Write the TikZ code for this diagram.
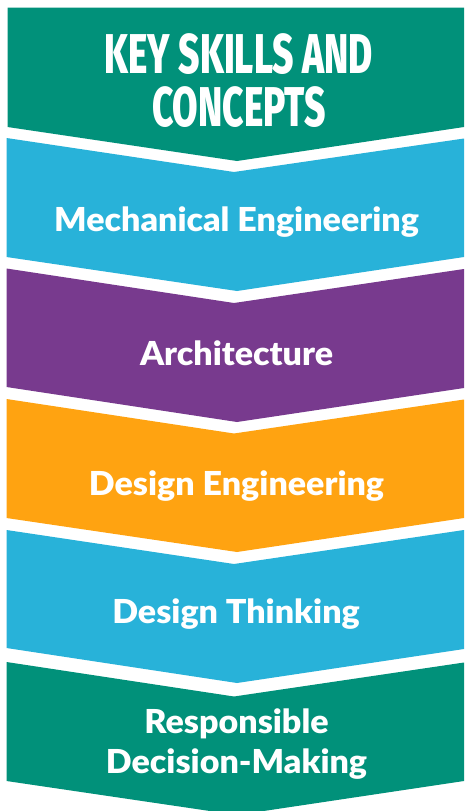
\documentclass[tikz,border=0pt]{standalone}
\usepackage{fontspec}
\newfontfamily\labelfont{Lato Black}
\newfontfamily\titlefont{Fira Sans ExtraBold}
\definecolor{tealband}{HTML}{01917A}
\definecolor{blueband}{HTML}{28B2D9}
\definecolor{purpleband}{HTML}{783A8E}
\definecolor{orangeband}{HTML}{FFA311}
\tikzset{
  band/.style={draw=none},
  label/.style={text=white,font=\labelfont\fontsize{33}{40}\selectfont,align=center,anchor=center,inner sep=0pt,transform shape,xscale=1.03},
  headline/.style={text=white,font=\titlefont\fontsize{56}{53}\selectfont,align=center,anchor=center,inner sep=0pt,transform shape,xscale=.66},
}
\begin{document}
\begin{tikzpicture}[x=1pt,y=-1pt]
\useasboundingbox (0,0) rectangle (464,811);
\fill[white] (0,0) rectangle (464,811);
\clip (0,0) rectangle (464,811);
\fill[band,tealband] (7.5,7.5) -- (464,7.5) -- (464,127) -- (237,161) -- (7.5,127) -- cycle;
\fill[band,blueband] (6.5,138) -- (234,172) -- (464,138.5) -- (464,257) -- (237,291) -- (6.5,257) -- cycle;
\fill[band,purpleband] (6.5,268.5) -- (234,303) -- (464,269) -- (464,388) -- (237,422) -- (6.5,387) -- cycle;
\fill[band,orangeband] (6.5,399) -- (234,433.5) -- (464,399.5) -- (464,518) -- (237,552) -- (6.5,518) -- cycle;
\fill[band,blueband] (6.5,530) -- (234,564) -- (464,530) -- (464,649) -- (237,683) -- (6.5,648) -- cycle;
\fill[band,tealband] (6.5,662) -- (234,696.5) -- (464,662.5) -- (464,781) -- (237,815) -- (6.5,781) -- cycle;
\node[headline] (title) at (239,81) {KEY SKILLS AND\\CONCEPTS};
\node[label] (mech) at (236.5,222) {Mechanical Engineering};
\node[label] (arch) at (236.5,353) {Architecture};
\node[label] (dese) at (236.5,486) {Design Engineering};
\node[label] (dest) at (236,614) {Design Thinking};
\node[label] (resp) at (236.5,744) {Responsible\\Decision-Making};
\end{tikzpicture}
\end{document}
